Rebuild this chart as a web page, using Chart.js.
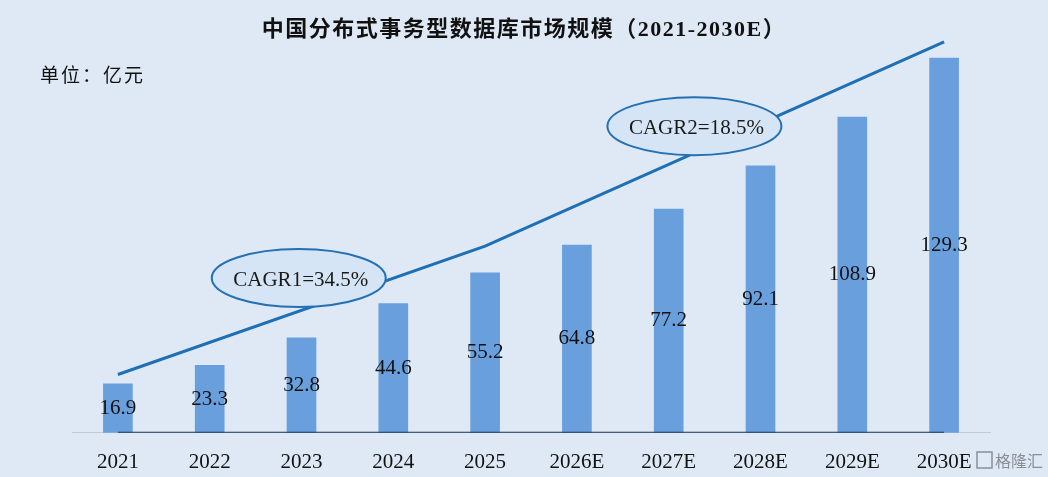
<!DOCTYPE html>
<html><head><meta charset="utf-8">
<script src="https://cdn.jsdelivr.net/npm/chart.js@4"></script>
<style>html,body{margin:0;padding:0;background:#dfe9f5;}#wrap{width:1048px;height:477px;position:relative;}</style>
</head><body><div id="wrap"><canvas id="c" width="1048" height="477"></canvas></div>
<script>
const categories = ['2021','2022','2023','2024','2025','2026E','2027E','2028E','2029E','2030E'];
const marketSize = [16.9, 23.3, 32.8, 44.6, 55.2, 64.8, 77.2, 92.1, 108.9, 129.3];
const trendLine = [20.1, null, null, null, 64.4, null, null, null, null, 134.9];
const baseLine = [0, 0, 0, 0, 0, 0, 0, 0, 0, 0];
const cagrLabels = ['CAGR1=34.5%', 'CAGR2=18.5%'];
const cagrIndex = [1.97, 6.28];
const cagrValue = [53.4, 105.8];
const titleText = '中国分布式事务型数据库市场规模（2021-2030E）';
const unitText = '单位：亿元';

const serif = "'Liberation Serif', 'Times New Roman', 'Noto Sans CJK SC', serif";

const decor = {
  id: 'decor',
  beforeDraw(chart) {
    const ctx = chart.ctx;
    ctx.save();
    ctx.fillStyle = '#dfe9f5';
    ctx.fillRect(0, 0, chart.width, chart.height);
    ctx.restore();
  },
  afterDatasetsDraw(chart) {
    const ctx = chart.ctx;
    const xs = chart.scales.x, ys = chart.scales.y;
    const meta = chart.getDatasetMeta(0);
    ctx.save();
    ctx.fillStyle = '#111';
    ctx.font = "21px " + serif;
    ctx.textAlign = 'center';
    ctx.textBaseline = 'middle';
    meta.data.forEach((bar, i) => {
      ctx.fillText(String(marketSize[i].toFixed(1)), bar.x, (bar.y + bar.base) / 2);
    });
    cagrLabels.forEach((t, i) => {
      const step = xs.getPixelForValue(1) - xs.getPixelForValue(0);
      const cx = xs.getPixelForValue(0) + cagrIndex[i] * step;
      const cy = ys.getPixelForValue(cagrValue[i]);
      ctx.beginPath();
      ctx.ellipse(cx, cy, 87, 29, 0, 0, Math.PI * 2);
      ctx.fillStyle = '#d6e5f6';
      ctx.fill();
      ctx.lineWidth = 2;
      ctx.strokeStyle = '#2470b3';
      ctx.stroke();
      ctx.fillStyle = '#1a1a1a';
      ctx.font = "21px " + serif;
      ctx.fillText(t, cx + 2, cy + 2);
    });
    ctx.restore();
  },
  afterDraw(chart) {
    const ctx = chart.ctx;
    ctx.save();
    ctx.fillStyle = '#111';
    ctx.textBaseline = 'middle';
    ctx.textAlign = 'center';
    ctx.letterSpacing = '1.5px';
    ctx.font = "bold 22px " + serif;
    ctx.fillText(titleText, 524, 30);
    ctx.textAlign = 'left';
    ctx.letterSpacing = '2px';
    ctx.font = "19px 'Noto Sans CJK SC', sans-serif";
    ctx.fillText(unitText, 40, 75);
    ctx.letterSpacing = '0px';
    ctx.fillStyle = '#8a8f96';
    ctx.font = "16px 'Noto Sans CJK SC', sans-serif";
    ctx.fillText('格隆汇', 995, 461);
    ctx.strokeStyle = '#8a8f96';
    ctx.lineWidth = 1.5;
    ctx.strokeRect(977, 452, 15, 16);
    ctx.restore();
  }
};

new Chart(document.getElementById('c'), {
  data: {
    labels: categories,
    datasets: [
      {
        type: 'bar',
        data: marketSize,
        backgroundColor: '#699fdd',
        barThickness: 29,
        order: 3
      },
      {
        type: 'line',
        data: baseLine,
        borderColor: '#1e3853',
        borderWidth: 2,
        pointRadius: 0,
        order: 2
      },
      {
        type: 'line',
        data: trendLine,
        spanGaps: true,
        borderColor: '#1f6fb5',
        borderWidth: 3,
        pointRadius: 0,
        tension: 0,
        clip: false,
        order: 1
      }
    ]
  },
  options: {
    responsive: false,
    animation: false,
    devicePixelRatio: 1,
    layout: { padding: { top: 27, left: 72, right: 58, bottom: -15 } },
    plugins: { legend: { display: false }, tooltip: { enabled: false }, title: { display: false } },
    scales: {
      x: {
        offset: true,
        grid: { display: false, drawTicks: false },
        border: { color: '#c3cad2', width: 1 },
        ticks: { color: '#111', font: { family: serif, size: 21, lineHeight: 1.2 }, padding: 17, maxRotation: 0, autoSkip: false }
      },
      y: { display: false, min: 0, max: 140 }
    }
  },
  plugins: [decor]
});
</script>
</body></html>
